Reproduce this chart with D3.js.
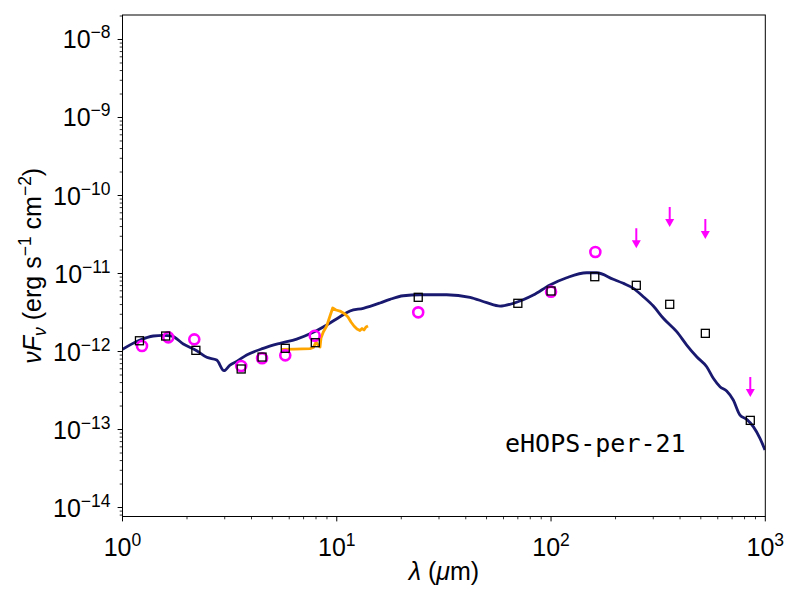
<!DOCTYPE html>
<html><head><meta charset="utf-8">
<script src="https://cdn.jsdelivr.net/npm/d3@7"></script>
<style>body{margin:0;background:#fff}svg{display:block}text{font-family:"Liberation Sans",Arial,Helvetica,sans-serif}</style>
</head><body><svg id="c" width="800" height="600"></svg>
<script>
// Model SED (wavelength in micron, nuFnu in erg s^-1 cm^-2)
const modelWave = [1.0,1.207,1.392,1.55,1.697,1.922,2.22,2.472,2.752,2.977,3.175,3.412,3.798,4.541,5.433,6.501,7.771,8.974,10.35,11.53,13.3,15.91,17.72,20.44,24.46,32.58,41.87,50.10,57.8,66.68,82.65,98.9,118.3,146.7,163.4,195.2,217.4,242.1,269.6,300.2,334.2,385.9,429.7,478.4,532.7,571.9,614.7,660.3,708.8,762.0,818.8,879.0,944.5,996.8];
const modelFlux = [1.067e-12,1.403e-12,1.581e-12,1.614e-12,1.581e-12,1.247e-12,1.023e-12,8.43e-13,7.78e-13,5.68e-13,6.71e-13,7.48e-13,9.02e-13,1.099e-12,1.274e-12,1.445e-12,1.762e-12,2.188e-12,2.793e-12,3.304e-12,3.581e-12,4.188e-12,4.667e-12,5.188e-12,5.346e-12,5.346e-12,4.955e-12,4.227e-12,3.828e-12,4.150e-12,5.297e-12,7.129e-12,8.831e-12,1.023e-11,1.023e-11,8.433e-12,7.482e-12,6.457e-12,5.047e-12,3.828e-12,2.667e-12,1.795e-12,1.211e-12,8.57e-13,6.38e-13,4.53e-13,3.54e-13,3.12e-13,2.39e-13,1.53e-13,1.35e-13,1.09e-13,7.71e-14,5.46e-14];
// IRS spectrum
const specWave = [5.534,6.384,7.503,7.771,8.0,8.173,8.351,8.442,8.653,8.974,9.298,9.572,9.917,10.35,10.92,11.28,11.65,12.03,12.43,12.83,13.12,13.40,13.69,13.99];
const specFlux = [1.067e-12,1.076e-12,1.091e-12,1.125e-12,1.324e-12,1.211e-12,1.143e-12,1.489e-12,1.778e-12,2.123e-12,2.851e-12,3.614e-12,3.405e-12,3.304e-12,3.027e-12,2.770e-12,2.388e-12,2.123e-12,1.941e-12,1.858e-12,1.972e-12,1.888e-12,2.061e-12,2.123e-12];
// Model photometry (squares)
const synWave = [1.2,1.59,2.2,3.58,4.48,5.75,7.94,24,70,100,160,250,358,525,851];
const synFlux = [1.374e-12,1.58e-12,1.035e-12,5.97e-13,8.49e-13,1.099e-12,1.297e-12,4.955e-12,4.15e-12,5.97e-12,9.10e-12,7.06e-12,4.03e-12,1.71e-12,1.31e-13];
// Observed photometry (circles)
const obsWave = [1.233,1.636,2.163,3.58,4.48,5.75,7.89,24,100,161];
const obsFlux = [1.178e-12,1.52e-12,1.432e-12,6.52e-13,8.18e-13,8.93e-13,1.596e-12,3.18e-12,5.85e-12,1.888e-11];
// Upper limits
const limWave = [250,358,525,851];
const limFlux = [3.79e-11,7.13e-11,5.0e-11,4.71e-13];
const xTickExp = [0,1,2,3];
const yTickExp = [-14,-13,-12,-11,-10,-9,-8];
const sourceName = "eHOPS-per-21";

const W=800,H=600, L=122.5, R=765.3, T=15, B=516.5;
const svg=d3.select("#c");
const x=d3.scaleLog().domain([1,1000]).range([L,R]);
const y=d3.scaleLog().domain([Math.pow(10,-14.115),Math.pow(10,-7.686)]).range([B,T]);

svg.append("defs").append("clipPath").attr("id","clip").append("rect")
  .attr("x",L).attr("y",T).attr("width",R-L).attr("height",B-T);

// ticks
const g=svg.append("g");
const fs=25;
// x major
xTickExp.forEach(e=>{
  const px=x(Math.pow(10,e));
  g.append("line").attr("x1",px).attr("x2",px).attr("y1",B).attr("y2",B+4.9).attr("stroke","#000").attr("stroke-width",1);
  const t=g.append("text").attr("x",px).attr("y",B+39.5).attr("text-anchor","middle").attr("font-size",fs);
  t.append("tspan").text("10");
  t.append("tspan").attr("dy",-10).attr("font-size",fs*0.7).text(String(e));
});
// x minor
for(let e=0;e<3;e++) for(let m=2;m<10;m++){
  const px=x(m*Math.pow(10,e));
  g.append("line").attr("x1",px).attr("x2",px).attr("y1",B).attr("y2",B+2.8).attr("stroke","#000").attr("stroke-width",0.8);
}
// y major
yTickExp.forEach(e=>{
  const py=y(Math.pow(10,e));
  g.append("line").attr("x1",L-4.9).attr("x2",L).attr("y1",py).attr("y2",py).attr("stroke","#000").attr("stroke-width",1);
  const t=g.append("text").attr("x",L-12).attr("y",py+9).attr("text-anchor","end").attr("font-size",fs);
  t.append("tspan").text("10");
  t.append("tspan").attr("dy",-10).attr("font-size",fs*0.7).text("\u2212"+Math.abs(e));
});
// y minor
for(let e=-15;e<-7;e++) for(let m=2;m<10;m++){
  const v=m*Math.pow(10,e);
  const py=y(v);
  if(py<T-0.1||py>B+0.1) continue;
  g.append("line").attr("x1",L-2.8).attr("x2",L).attr("y1",py).attr("y2",py).attr("stroke","#000").attr("stroke-width",0.8);
}

// axis labels
const xl=svg.append("text").attr("x",(L+R)/2).attr("y",580).attr("text-anchor","middle").attr("font-size",fs);
xl.append("tspan").attr("font-style","italic").text("\u03bb");
xl.append("tspan").text(" (");
xl.append("tspan").attr("font-style","italic").text("\u03bc");
xl.append("tspan").text("m)");

const yl=svg.append("text").attr("transform",`translate(41,${(T+B)/2}) rotate(-90)`).attr("text-anchor","middle").attr("font-size",fs);
yl.append("tspan").attr("font-style","italic").text("\u03bdF");
yl.append("tspan").attr("font-style","italic").attr("font-size",fs*0.7).attr("dy",5).text("\u03bd");
yl.append("tspan").attr("dy",-5).text(" (erg s");
yl.append("tspan").attr("font-size",fs*0.7).attr("dy",-10).text("\u22121");
yl.append("tspan").attr("dy",10).text(" cm");
yl.append("tspan").attr("font-size",fs*0.7).attr("dy",-10).text("\u22122");
yl.append("tspan").attr("dy",10).text(")");

const plot=svg.append("g").attr("clip-path","url(#clip)");
const line=d3.line().x(d=>x(d[0])).y(d=>y(d[1])).curve(d3.curveMonotoneX);
plot.append("path").datum(modelWave.map((w,i)=>[w,modelFlux[i]])).attr("d",line)
  .attr("fill","none").attr("stroke","#191970").attr("stroke-width",2.8).attr("stroke-linejoin","round");
const line2=d3.line().x(d=>x(d[0])).y(d=>y(d[1]));
plot.append("path").datum(specWave.map((w,i)=>[w,specFlux[i]])).attr("d",line2)
  .attr("fill","none").attr("stroke","#FFA500").attr("stroke-width",2.8).attr("stroke-linejoin","round");

// circles
plot.selectAll("circle.obs").data(obsWave.map((w,i)=>[w,obsFlux[i]])).enter().append("circle")
  .attr("cx",d=>x(d[0])).attr("cy",d=>y(d[1])).attr("r",5).attr("fill","none")
  .attr("stroke","#FF00FF").attr("stroke-width",2.6);
// squares
plot.selectAll("rect.syn").data(synWave.map((w,i)=>[w,synFlux[i]])).enter().append("rect")
  .attr("x",d=>x(d[0])-4).attr("y",d=>y(d[1])-4).attr("width",8).attr("height",8)
  .attr("fill","none").attr("stroke","#000").attr("stroke-width",1.3);
// upper limits
limWave.forEach((w,i)=>{
  const px=x(w), py=y(limFlux[i]);
  plot.append("line").attr("x1",px).attr("x2",px).attr("y1",py).attr("y2",py+14)
    .attr("stroke","#FF00FF").attr("stroke-width",2);
  plot.append("path").attr("d",`M${px-4.5},${py+12}L${px+4.5},${py+12}L${px},${py+20}Z`).attr("fill","#FF00FF");
});

// frame
svg.append("rect").attr("x",L).attr("y",T).attr("width",R-L).attr("height",B-T)
  .attr("fill","none").attr("stroke","#000").attr("stroke-width",1);

svg.append("text").attr("x",505).attr("y",451.5).style("font-family","'DejaVu Sans Mono',monospace")
  .attr("font-size",25).attr("fill","#000").text(sourceName);
</script></body></html>
